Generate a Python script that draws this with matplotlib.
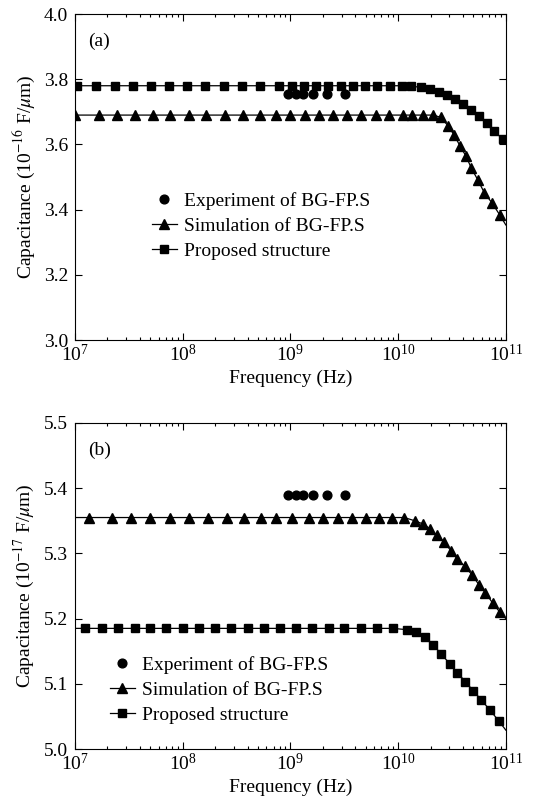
import matplotlib
matplotlib.use("Agg")
import matplotlib.pyplot as plt
from matplotlib.ticker import LogLocator, MultipleLocator, FormatStrFormatter, NullLocator

plt.rcParams['font.family'] = ['Liberation Serif', 'DejaVu Serif']
plt.rcParams['mathtext.fontset'] = 'stix'

# ---- panel (a) data ----
f_exp_a = [0.96e9, 1.12e9, 1.32e9, 1.63e9, 2.2e9, 3.2e9]
c_exp_a = [3.755, 3.755, 3.755, 3.755, 3.755, 3.755]

f_sim_a = [1.00e7, 1.66e7, 2.45e7, 3.59e7, 5.25e7, 7.67e7, 1.14e8, 1.66e8, 2.45e8, 3.63e8,
           5.25e8, 7.33e8, 1.00e9, 1.36e9, 1.84e9, 2.48e9, 3.39e9, 4.57e9, 6.17e9, 8.22e9,
           1.10e10, 1.35e10, 1.70e10, 2.11e10, 2.51e10, 2.92e10, 3.31e10, 3.76e10, 4.27e10,
           4.79e10, 5.50e10, 6.31e10, 7.50e10, 8.81e10, 1.00e11]
c_sim_a = [3.69, 3.69, 3.69, 3.69, 3.69, 3.69, 3.69, 3.69, 3.69, 3.69,
           3.69, 3.69, 3.69, 3.69, 3.69, 3.69, 3.69, 3.69, 3.69, 3.69,
           3.69, 3.69, 3.69, 3.69, 3.683, 3.656, 3.629, 3.595, 3.564,
           3.527, 3.491, 3.452, 3.419, 3.383, 3.353]

f_prop_a = [1.00e7, 1.05e7, 1.58e7, 2.34e7, 3.47e7, 5.13e7, 7.50e7, 1.10e8, 1.62e8, 2.40e8,
            3.55e8, 5.25e8, 7.76e8, 1.03e9, 1.34e9, 1.72e9, 2.24e9, 2.92e9, 3.80e9, 4.91e9,
            6.40e9, 8.34e9, 1.08e10, 1.31e10, 1.62e10, 1.98e10, 2.42e10, 2.83e10, 3.38e10,
            4.04e10, 4.75e10, 5.64e10, 6.65e10, 7.78e10, 9.38e10, 1.00e11]
c_prop_a = [3.78, 3.78, 3.78, 3.78, 3.78, 3.78, 3.78, 3.78, 3.78, 3.78,
            3.78, 3.78, 3.78, 3.78, 3.78, 3.78, 3.78, 3.78, 3.78, 3.78,
            3.78, 3.78, 3.78, 3.779, 3.775, 3.769, 3.762, 3.752, 3.739,
            3.724, 3.706, 3.687, 3.667, 3.641, 3.616, 3.607]

# ---- panel (b) data ----
f_exp_b = [0.96e9, 1.12e9, 1.32e9, 1.63e9, 2.2e9, 3.2e9]
c_exp_b = [5.39, 5.39, 5.39, 5.39, 5.39, 5.39]

f_sim_b = [1.00e7, 1.36e7, 2.19e7, 3.31e7, 5.01e7, 7.59e7, 1.15e8, 1.73e8, 2.57e8, 3.70e8,
           5.32e8, 7.33e8, 1.04e9, 1.49e9, 2.01e9, 2.78e9, 3.75e9, 5.01e9, 6.67e9, 8.81e9,
           1.14e10, 1.43e10, 1.71e10, 1.97e10, 2.28e10, 2.67e10, 3.09e10, 3.56e10, 4.17e10,
           4.86e10, 5.62e10, 6.46e10, 7.53e10, 8.79e10, 1.00e11]
c_sim_b = [5.355, 5.355, 5.355, 5.355, 5.355, 5.355, 5.355, 5.355, 5.355, 5.355,
           5.355, 5.355, 5.355, 5.355, 5.355, 5.355, 5.355, 5.355, 5.355, 5.355,
           5.355, 5.350, 5.345, 5.338, 5.328, 5.318, 5.304, 5.291, 5.280,
           5.267, 5.252, 5.240, 5.224, 5.210, 5.200]

f_prop_b = [1.00e7, 1.23e7, 1.79e7, 2.52e7, 3.58e7, 5.01e7, 7.06e7, 1.00e8, 1.42e8, 2.00e8,
            2.84e8, 4.01e8, 5.65e8, 8.02e8, 1.12e9, 1.59e9, 2.26e9, 3.18e9, 4.49e9, 6.32e9,
            8.97e9, 1.21e10, 1.48e10, 1.76e10, 2.11e10, 2.50e10, 3.01e10, 3.56e10, 4.22e10,
            5.01e10, 5.94e10, 7.10e10, 8.61e10, 1.00e11]
c_prop_b = [5.185, 5.185, 5.185, 5.185, 5.185, 5.185, 5.185, 5.185, 5.185, 5.185,
            5.185, 5.185, 5.185, 5.185, 5.185, 5.185, 5.185, 5.185, 5.185, 5.185,
            5.185, 5.183, 5.179, 5.172, 5.160, 5.146, 5.131, 5.117, 5.103,
            5.089, 5.075, 5.060, 5.043, 5.029]

labels = ['Experiment of BG-FP.S', 'Simulation of BG-FP.S', 'Proposed structure']

fig = plt.figure(figsize=(5.51, 8.10), dpi=100)
ax_a = fig.add_axes([0.136, 0.5802, 0.782, 0.4025])
ax_b = fig.add_axes([0.136, 0.0753, 0.782, 0.4025])

panels = [
    (ax_a, f_exp_a, c_exp_a, f_sim_a, c_sim_a, f_prop_a, c_prop_a,
     (3.0, 4.0), 0.2, r'Capacitance (10$^{-16}$ F/$\mu$m)', '(a)', (0.178, 0.455)),
    (ax_b, f_exp_b, c_exp_b, f_sim_b, c_sim_b, f_prop_b, c_prop_b,
     (5.0, 5.5), 0.1, r'Capacitance (10$^{-17}$ F/$\mu$m)', '(b)', (0.081, 0.286)),
]

for ax, fe, ce, fs, cs, fp, cp, ylim, ystep, ylab, tag, leg_pos in panels:
    ax.plot(fe, ce, 'o', color='black', ms=6.3, label=labels[0])
    # line ends at 1e11 without a marker; (b) also starts at 1e7 without one
    start = 0 if ax is ax_a else 1
    ax.plot(fs, cs, '-^', color='black', lw=0.9, ms=7.5,
            markevery=list(range(start, len(fs) - 1)), label=labels[1])
    ax.plot(fp, cp, '-s', color='black', lw=0.9, ms=6,
            markevery=list(range(1, len(fp) - 1)), label=labels[2])

    ax.set_xscale('log')
    ax.set_xlim(1e7, 1e11)
    ax.set_ylim(*ylim)
    ax.xaxis.set_major_locator(LogLocator(base=10, numticks=10))
    ax.xaxis.set_minor_locator(LogLocator(base=10, subs=range(2, 10), numticks=20))
    ax.yaxis.set_major_locator(MultipleLocator(ystep))
    ax.yaxis.set_major_formatter(FormatStrFormatter('%.1f'))
    ax.yaxis.set_minor_locator(NullLocator())
    ax.tick_params(which='both', direction='in', top=True, right=True, labelsize=14,
                   width=0.8, colors='black')
    ax.tick_params(which='major', length=5)
    ax.tick_params(which='minor', length=2.5)
    ax.tick_params(axis='x', pad=3)
    ax.tick_params(axis='y', pad=5)
    for sp in ax.spines.values():
        sp.set_linewidth(0.8)

    ax.set_xlabel('Frequency (Hz)', fontsize=14, labelpad=3)
    ax.set_ylabel(ylab, fontsize=14, labelpad=5)
    ax.text(0.03, 0.915, tag, transform=ax.transAxes, fontsize=14, va='center')

    ax.legend(loc='upper left', bbox_to_anchor=leg_pos, frameon=False, fontsize=14,
              handlelength=1.3, handletextpad=0.35, labelspacing=0.38,
              borderpad=0, borderaxespad=0)

fig.savefig('out.png', dpi=100)
